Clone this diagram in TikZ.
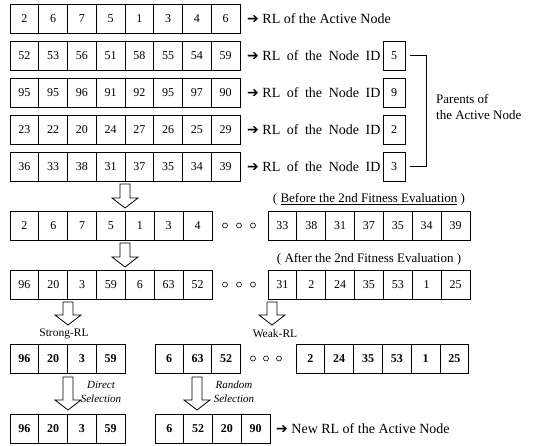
\documentclass[tikz,border=0pt]{standalone}
\usepackage{fontspec}
\setmainfont{Liberation Serif}
\newfontfamily\dejavu{DejaVu Sans}
\tikzset{
  cell/.style={draw, line width=0.8pt, minimum height=29pt, inner sep=0pt, font=\fontsize{12}{13}\selectfont},
  bcell/.style={cell, font=\fontsize{12}{13}\selectfont\bfseries},
  idbox/.style={cell, minimum width=22pt, minimum height=29pt, anchor=west},
  lbl/.style={anchor=west, inner sep=0pt, font=\fontsize{14}{16}\selectfont},
  dotc/.style={draw, circle, line width=0.6pt, minimum size=5pt, inner sep=0pt},
  harrow/.style={draw, line width=0.8pt, fill=white},
  small/.style={inner sep=0pt, font=\fontsize{11.5}{13}\selectfont},
  ital/.style={inner sep=0pt, align=center, font=\fontsize{11}{14}\selectfont\itshape},
}
\newcommand\myrow[6]{% style, name, x0, ycenter, width, list
  \foreach \v [count=\i] in {#6}
    \node[#1, minimum width=#5pt] (#2-\i) at ({#3+(\i-0.5)*#5}, #4) {\v};}
\newcommand\hollowdown[4]{% name, x, ytop, ybot
  \draw[harrow] (#2-5,#3) -- (#2+5,#3) -- (#2+5,#4-10) -- (#2+13,#4-10) -- (#2,#4)
     -- (#2-13,#4-10) -- (#2-5,#4-10) -- cycle;
  \coordinate (#1) at (#2,#4);}
\begin{document}
\begin{tikzpicture}[x=1pt,y=-1pt]
\useasboundingbox (0,0) rectangle (542,446);
% rows 1-5
\myrow{cell}{ra}{10}{18.5}{28.75}{2,6,7,5,1,3,4,6}
\myrow{cell}{rb}{10}{55.5}{28.75}{52,53,56,51,58,55,54,59}
\myrow{cell}{rc}{10}{92.5}{28.75}{95,95,96,91,92,95,97,90}
\myrow{cell}{rd}{10}{129.5}{28.75}{23,22,20,24,27,26,25,29}
\myrow{cell}{re}{10}{166.5}{28.75}{36,33,38,31,37,35,34,39}
\node[lbl] (la) at (247,18.5) {{\dejavu ➔} RL of the Active Node};
\node[lbl] (lb) at (247,55.5) {{\dejavu ➔} \makebox[118pt][s]{RL of the Node ID}};
\node[lbl] (lc) at (247,92.5) {{\dejavu ➔} \makebox[118pt][s]{RL of the Node ID}};
\node[lbl] (ld) at (247,129.5) {{\dejavu ➔} \makebox[118pt][s]{RL of the Node ID}};
\node[lbl] (le) at (247,166.5) {{\dejavu ➔} \makebox[118pt][s]{RL of the Node ID}};
\node[idbox] (idb) at ([xshift=2pt]lb.east) {5};
\node[idbox] (idc) at ([xshift=2pt]lc.east) {9};
\node[idbox] (idd) at ([xshift=2pt]ld.east) {2};
\node[idbox] (ide) at ([xshift=2pt]le.east) {3};
\draw[line width=0.6pt] ([xshift=5pt]idb.east) -- ++(16,0) |- ([xshift=5pt]ide.east);
\node[lbl, align=left, font=\fontsize{13}{16}\selectfont] (par) at (436,107) {Parents of\\the Active Node};
% arrow to row 6
\hollowdown{d1}{125}{184}{208}
% row 6
\myrow{cell}{rf}{10}{225.5}{28.85}{2,6,7,5,1,3,4}
\node[dotc] (f1) at (225,225.5) {};
\node[dotc] (f2) at (239,225.5) {};
\node[dotc] (f3) at (253,225.5) {};
\myrow{cell}{rg}{268}{225.5}{28.85}{33,38,31,37,35,34,39}
\node[inner sep=0pt, font=\fontsize{13}{15}\selectfont] (tb) at (369,199) {( \underline{Before the 2nd Fitness Evaluation} )};
% arrow to row 7
\hollowdown{d2}{125}{243}{267}
\myrow{cell}{rh}{10}{284.5}{28.85}{96,20,3,59,6,63,52}
\node[dotc] (h1) at (225,284.5) {};
\node[dotc] (h2) at (239,284.5) {};
\node[dotc] (h3) at (253,284.5) {};
\myrow{cell}{ri}{268}{284.5}{28.85}{31,2,24,35,53,1,25}
\node[inner sep=0pt, font=\fontsize{13}{15}\selectfont] (ta) at (369,259) {( After the 2nd Fitness Evaluation )};
% split arrows
\hollowdown{d3}{68}{302}{325}
\hollowdown{d4}{272}{302}{325}
\node[small] (strong) at (64,334) {Strong-RL};
\node[small] (weak) at (275,334) {Weak-RL};
% row 8
\myrow{bcell}{rj}{10}{358.5}{28.75}{96,20,3,59}
\myrow{bcell}{rk}{155}{358.5}{28.4}{6,63,52}
\node[dotc] (k1) at (253,358.5) {};
\node[dotc] (k2) at (266,358.5) {};
\node[dotc] (k3) at (279,358.5) {};
\myrow{bcell}{rl}{296}{358.5}{28.8}{2,24,35,53,1,25}
% selection arrows
\hollowdown{d5}{68}{377}{410}
\hollowdown{d6}{197}{377}{410}
\node[ital] (direct) at (101,392) {Direct\\Selection};
\node[ital] (random) at (234,392) {Random\\Selection};
% row 9
\myrow{bcell}{rm}{10}{428.5}{28.75}{96,20,3,59}
\myrow{bcell}{rn}{155}{428.5}{28.75}{6,52,20,90}
\node[lbl] (ln) at (276,428.5) {{\dejavu ➔} New RL of the Active Node};
\end{tikzpicture}
\end{document}
